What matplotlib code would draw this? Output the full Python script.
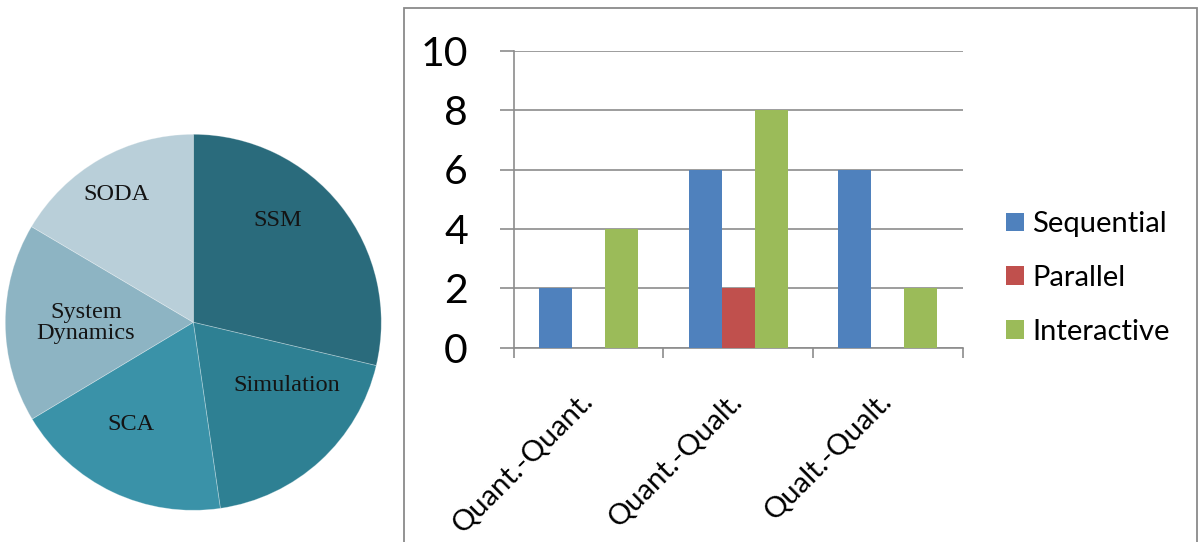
import matplotlib
matplotlib.use("Agg")
import matplotlib.pyplot as plt
from matplotlib.patches import Rectangle
from matplotlib.transforms import ScaledTranslation
import numpy as np

# ---- data ----
pie_labels = ["SSM", "Simulation", "SCA", "System\nDynamics", "SODA"]
pie_values = [28.7, 19.0, 18.7, 17.1, 16.5]
pie_colors = ["#2a6b7c", "#2e8093", "#3a92a8", "#8db4c3", "#b9cfd9"]

categories = ["Quant.-Quant.", "Quant.-Qualt.", "Qualt.-Qualt."]
sequential = [2, 6, 6]
parallel = [0, 2, 0]
interactive = [4, 8, 2]
series_names = ["Sequential", "Parallel", "Interactive"]
bar_colors = ["#4f81bd", "#c0504d", "#9bbb59"]
yticks = [0, 2, 4, 6, 8, 10]

W, H = 1198, 542
fig = plt.figure(figsize=(W / 100, H / 100), dpi=100)

def fx(px):
    return px / W

def fy(py):
    return 1 - py / H

# ---- pie ----
cx, cy, r = 193.3, 322.3, 188
axp = fig.add_axes([fx(cx - r), fy(cy + r), 2 * r / W, 2 * r / H])
wedges, _ = axp.pie(pie_values, colors=pie_colors, startangle=90, counterclock=False,
                    radius=1.0, wedgeprops=dict(edgecolor=(1, 1, 1, 0.3), linewidth=0.6))
axp.set_xlim(-1, 1)
axp.set_ylim(-1, 1)
axp.set_aspect("equal")
axp.axis("off")
label_pos = [(0.45, 0.544), (0.498, -0.334), (-0.331, -0.541), (-0.571, -0.005), (-0.411, 0.682)]
for lab, (lx, ly) in zip(pie_labels, label_pos):
    axp.text(lx, ly, lab, ha="center", va="center", fontsize=17.5, family="Liberation Serif",
             color="#141414", linespacing=1.0)

# ---- frame around bar chart ----
fig.patches.append(Rectangle((fx(404), fy(560)), fx(1197) - fx(404), fy(8) - fy(560),
                             transform=fig.transFigure, fill=False, edgecolor="#8a8a8a",
                             linewidth=1.3))

# ---- bar chart ----
x0, x1, yt, yb = 513.7, 962.7, 50.7, 347.7
axb = fig.add_axes([fx(x0), fy(yb), (x1 - x0) / W, (yb - yt) / H])
x = np.arange(len(categories))
bw = 0.22
for i, (vals, name, col) in enumerate(zip([sequential, parallel, interactive], series_names, bar_colors)):
    axb.bar(x + (i - 1) * bw, vals, width=bw, color=col, label=name, zorder=3)
axb.set_xlim(-0.5, len(categories) - 0.5)
axb.set_ylim(0, 10)
axb.set_yticks(yticks)
axb.yaxis.grid(True, color="#8c8c8c", linewidth=1.2, zorder=0)
for s in ["top", "right"]:
    axb.spines[s].set_visible(False)
for s in ["left", "bottom"]:
    axb.spines[s].set_color("#8c8c8c")
    axb.spines[s].set_linewidth(1.2)
axb.tick_params(axis="y", length=10, width=1.2, color="#8c8c8c", pad=23,
                labelsize=29.5, labelcolor="black")
for t in axb.get_yticklabels():
    t.set_family("Lato")
axb.set_xticks(x)
axb.set_xticklabels(categories, rotation=45, ha="right", rotation_mode="anchor",
                    fontsize=21, family="Lato")
axb.set_xticks(np.arange(len(categories) + 1) - 0.5, minor=True)
axb.tick_params(axis="x", which="major", length=0, pad=29)
axb.tick_params(axis="x", which="minor", length=7, width=1.2, color="#8c8c8c")
shift = ScaledTranslation(-9 / 100, 0, fig.dpi_scale_trans)
for t in axb.get_xticklabels():
    t.set_transform(t.get_transform() + shift)

leg = fig.legend(loc="center left", bbox_to_anchor=(fx(994), fy(278)), frameon=False,
                 prop=dict(family="Lato", size=21), handlelength=0.62, handleheight=0.62,
                 handletextpad=0.3, labelspacing=0.95, borderaxespad=0)

fig.savefig("out.png", dpi=100)
